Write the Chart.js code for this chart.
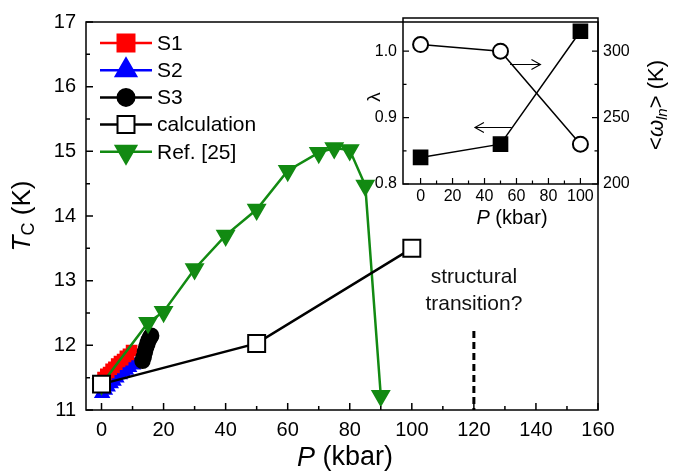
<!DOCTYPE html>
<html>
<head>
<meta charset="utf-8">
<script src="https://cdn.jsdelivr.net/npm/chart.js@4"></script>
<style>
  html, body { margin: 0; padding: 0; background: #fff; }
  #wrap { position: relative; width: 696px; height: 474px; }
  #main { position: absolute; left: 0; top: 0; }
  #inset { position: absolute; left: 340px; top: 0; }
</style>
</head>
<body>
<div id="wrap">
  <canvas id="main" width="696" height="474"></canvas>
  <canvas id="inset" width="356" height="240"></canvas>
</div>
<script>
// main panel: Tc vs pressure
const S1_P = [0.5, 1.4, 2.3, 3.1, 4.0, 4.9, 5.8, 6.8, 7.7, 8.7, 9.7];
const S1_TC = [11.50, 11.55, 11.58, 11.63, 11.66, 11.71, 11.75, 11.78, 11.83, 11.86, 11.92];
const S2_P = [0.2, 1.1, 2.0, 3.0, 3.9, 4.8, 5.9, 6.9, 7.9, 8.9, 10.2];
const S2_TC = [11.26, 11.31, 11.36, 11.41, 11.45, 11.50, 11.55, 11.59, 11.62, 11.66, 11.70];
const S3_P = [13.2, 13.6, 14.0, 14.4, 14.8, 15.2, 15.6, 16.0];
const S3_TC = [11.76, 11.82, 11.90, 11.97, 12.03, 12.08, 12.12, 12.15];
const CALC_P = [0, 50, 100];
const CALC_TC = [11.4, 12.03, 13.5];
const REF_P = [0, 15, 20, 30, 40, 50, 60, 70, 75, 80, 85, 90];
const REF_TC = [11.4, 12.35, 12.52, 13.18, 13.7, 14.1, 14.7, 14.98, 15.05, 15.02, 14.47, 11.22];
const TRANSITION_P = 120;
const TRANSITION_TC = [12.22, 11.0];

const X_TICKS = [0, 20, 40, 60, 80, 100, 120, 140, 160];
const X_MINOR = [10, 30, 50, 70, 90, 110, 130, 150];
const Y_TICKS = [11, 12, 13, 14, 15, 16, 17];
const Y_MINOR = [11.5, 12.5, 13.5, 14.5, 15.5, 16.5];

// inset: lambda and <omega_ln> vs pressure
const INSET_P = [0, 50, 100];
const LAMBDA = [0.84, 0.86, 1.03];
const OMEGA_LN = [305, 300, 230];
const INSET_X_TICKS = [0, 20, 40, 60, 80, 100];
const INSET_X_MINOR = [10, 30, 50, 70, 90];
const LAMBDA_TICKS = [0.8, 0.9, 1.0];
const LAMBDA_MINOR = [0.85, 0.95];
const OMEGA_TICKS = [200, 250, 300];
const OMEGA_MINOR = [225, 275];

const FONT = "'Liberation Sans', Arial, sans-serif";
const GREEN = '#128a12';

const pts = (xs, ys) => xs.map((x, i) => ({ x, y: ys[i] }));

function marker(ctx, style, x, y, r, fill, stroke, lw) {
  ctx.save();
  ctx.beginPath();
  if (style === 'rect') {
    const s = r * Math.SQRT1_2;
    ctx.rect(x - s, y - s, 2 * s, 2 * s);
  } else if (style === 'circle') {
    ctx.arc(x, y, r, 0, Math.PI * 2);
  } else {
    const d = style === 'triangle' ? 1 : -1;
    ctx.moveTo(x, y - d * r);
    ctx.lineTo(x + r * 0.866, y + d * r * 0.5);
    ctx.lineTo(x - r * 0.866, y + d * r * 0.5);
    ctx.closePath();
  }
  ctx.fillStyle = fill;
  ctx.fill();
  ctx.lineWidth = lw;
  ctx.strokeStyle = stroke;
  ctx.stroke();
  ctx.restore();
}

function tickMarks(ctx, scale, values, len, side, area) {
  ctx.beginPath();
  values.forEach(v => {
    const p = scale.getPixelForValue(v);
    if (side === 'bottom') { ctx.moveTo(p, area.bottom); ctx.lineTo(p, area.bottom - len); }
    if (side === 'left') { ctx.moveTo(area.left, p); ctx.lineTo(area.left + len, p); }
    if (side === 'right') { ctx.moveTo(area.right, p); ctx.lineTo(area.right - len, p); }
  });
  ctx.stroke();
}

const LEGEND = [
  { label: 'S1', style: 'rect', r: 12, fill: '#ff0000', stroke: '#ff0000', line: '#ff0000' },
  { label: 'S2', style: 'triangle', r: 12, fill: '#0000ff', stroke: '#0000ff', line: '#0000ff' },
  { label: 'S3', style: 'circle', r: 8.5, fill: '#000', stroke: '#000', line: '#000' },
  { label: 'calculation', style: 'rect', r: 12, fill: '#fff', stroke: '#000', line: '#000' },
  { label: 'Ref. [25]', style: 'triangleDown', r: 12, fill: GREEN, stroke: GREEN, line: GREEN },
];

const mainDecor = {
  id: 'mainDecor',
  afterDraw(chart) {
    const { ctx, chartArea: a, scales: { x, y } } = chart;
    ctx.save();
    ctx.strokeStyle = '#000';
    ctx.lineWidth = 1.5;
    ctx.strokeRect(a.left, a.top, a.right - a.left, a.bottom - a.top);
    tickMarks(ctx, x, X_TICKS, 7, 'bottom', a);
    tickMarks(ctx, x, X_MINOR, 4, 'bottom', a);
    tickMarks(ctx, y, Y_TICKS, 7, 'left', a);
    tickMarks(ctx, y, Y_MINOR, 4, 'left', a);

    // legend
    ctx.font = '21px ' + FONT;
    ctx.textBaseline = 'middle';
    LEGEND.forEach((it, i) => {
      const ly = 43 + i * 27.2;
      ctx.beginPath();
      ctx.strokeStyle = it.line;
      ctx.lineWidth = 2.5;
      ctx.moveTo(100, ly);
      ctx.lineTo(152, ly);
      ctx.stroke();
      marker(ctx, it.style, 126, ly, it.r, it.fill, it.stroke, 2);
      ctx.fillStyle = '#000';
      ctx.fillText(it.label, 157, ly + 1);
    });

    // annotation
    ctx.textAlign = 'center';
    ctx.fillStyle = '#111';
    const tx = x.getPixelForValue(TRANSITION_P);
    ctx.fillText('structural', tx, y.getPixelForValue(13.05));
    ctx.fillText('transition?', tx, y.getPixelForValue(12.64));

    // x title
    ctx.fillStyle = '#000';
    ctx.textAlign = 'left';
    ctx.font = 'italic 27px ' + FONT;
    const wP = ctx.measureText('P').width;
    ctx.font = '27px ' + FONT;
    const wRest = ctx.measureText(' (kbar)').width;
    let sx = 345 - (wP + wRest) / 2;
    ctx.font = 'italic 27px ' + FONT;
    ctx.fillText('P', sx, 458);
    ctx.font = '27px ' + FONT;
    ctx.fillText(' (kbar)', sx + wP, 458);

    // y title
    ctx.translate(23, 216);
    ctx.rotate(-Math.PI / 2);
    ctx.font = 'italic 26px ' + FONT;
    const wT = ctx.measureText('T').width;
    ctx.font = '18px ' + FONT;
    const wC = ctx.measureText('C').width;
    ctx.font = '26px ' + FONT;
    const wK = ctx.measureText(' (K)').width;
    sx = -(wT + wC + wK) / 2;
    ctx.font = 'italic 26px ' + FONT;
    ctx.fillText('T', sx, 0);
    ctx.font = '18px ' + FONT;
    ctx.fillText('C', sx + wT, 6);
    ctx.font = '26px ' + FONT;
    ctx.fillText(' (K)', sx + wT + wC, 0);
    ctx.restore();
  }
};

new Chart(document.getElementById('main'), {
  type: 'scatter',
  data: {
    datasets: [
      { data: pts(CALC_P, CALC_TC), showLine: true, borderColor: '#000', borderWidth: 2.5,
        pointStyle: 'rect', pointRadius: 12, pointBackgroundColor: '#fff', pointBorderColor: '#000', pointBorderWidth: 2, order: 0 },
      { data: pts(REF_P, REF_TC), showLine: true, borderColor: GREEN, borderWidth: 2.5,
        pointStyle: 'triangle', rotation: 180, pointRadius: 9, pointBackgroundColor: GREEN, pointBorderColor: GREEN, order: 1 },
      { data: pts(S3_P, S3_TC), showLine: true, borderColor: '#000', borderWidth: 2.5,
        pointStyle: 'circle', pointRadius: 7, pointBackgroundColor: '#000', pointBorderColor: '#000', order: 2 },
      { data: pts(S1_P, S1_TC), showLine: true, borderColor: '#ff0000', borderWidth: 2.5,
        pointStyle: 'rect', pointRadius: 6.5, pointBackgroundColor: '#ff0000', pointBorderColor: '#ff0000', order: 3 },
      { data: pts(S2_P, S2_TC), showLine: true, borderColor: '#0000ff', borderWidth: 2.5,
        pointStyle: 'triangle', pointRadius: 7, pointBackgroundColor: '#0000ff', pointBorderColor: '#0000ff', order: 4 },
      { data: TRANSITION_TC.map(v => ({ x: TRANSITION_P, y: v })), showLine: true, borderColor: '#000',
        borderWidth: 3, borderDash: [7, 4], pointRadius: 0, order: 5 },
    ],
  },
  options: {
    responsive: false,
    animation: false,
    layout: { padding: { top: 18, right: 98, left: 0, bottom: 0 } },
    plugins: { legend: { display: false }, tooltip: { enabled: false } },
    scales: {
      x: {
        type: 'linear', min: -5, max: 160,
        grid: { display: false, drawTicks: false }, border: { display: false },
        ticks: { color: '#000', padding: 8, font: { family: FONT, size: 20 } },
        afterBuildTicks: (s) => { s.ticks = X_TICKS.map(v => ({ value: v })); },
        afterFit: (s) => { s.height = 64; },
      },
      y: {
        min: 11, max: 17,
        grid: { display: false, drawTicks: false }, border: { display: false },
        ticks: { color: '#000', padding: 10, font: { family: FONT, size: 20 } },
        afterBuildTicks: (s) => { s.ticks = Y_TICKS.map(v => ({ value: v })); },
        afterFit: (s) => { s.width = 86; },
      },
    },
  },
  plugins: [mainDecor],
});

const insetDecor = {
  id: 'insetDecor',
  afterDraw(chart) {
    const { ctx, chartArea: a, scales: { x, y, y1 } } = chart;
    ctx.save();
    ctx.strokeStyle = '#000';
    ctx.lineWidth = 1.5;
    ctx.strokeRect(a.left, a.top, a.right - a.left, a.bottom - a.top);
    ctx.lineWidth = 1.2;
    tickMarks(ctx, x, INSET_X_TICKS, 6, 'bottom', a);
    tickMarks(ctx, x, INSET_X_MINOR, 3.5, 'bottom', a);
    tickMarks(ctx, y, LAMBDA_TICKS, 6, 'left', a);
    tickMarks(ctx, y, LAMBDA_MINOR, 3.5, 'left', a);
    tickMarks(ctx, y1, OMEGA_TICKS, 6, 'right', a);
    tickMarks(ctx, y1, OMEGA_MINOR, 3.5, 'right', a);

    // arrows pointing to the axes
    const arrow = (x0, x1, py) => {
      ctx.beginPath();
      ctx.moveTo(x0, py); ctx.lineTo(x1, py);
      const d = x1 > x0 ? -1 : 1;
      ctx.moveTo(x1 + d * 9, py - 5); ctx.lineTo(x1, py); ctx.lineTo(x1 + d * 9, py + 5);
      ctx.stroke();
    };
    ctx.lineWidth = 1.1;
    arrow(x.getPixelForValue(56), x.getPixelForValue(75), y1.getPixelForValue(290));
    arrow(x.getPixelForValue(57), x.getPixelForValue(34), y.getPixelForValue(0.885));

    ctx.fillStyle = '#000';
    ctx.textBaseline = 'middle';
    // x title
    ctx.font = 'italic 20px ' + FONT;
    const wP = ctx.measureText('P').width;
    ctx.font = '20px ' + FONT;
    const wR = ctx.measureText(' (kbar)').width;
    const sx = 172 - (wP + wR) / 2;
    ctx.font = 'italic 20px ' + FONT;
    ctx.fillText('P', sx, 218);
    ctx.font = '20px ' + FONT;
    ctx.fillText(' (kbar)', sx + wP, 218);

    // lambda title
    ctx.save();
    ctx.translate(35, 97);
    ctx.rotate(-Math.PI / 2);
    ctx.textAlign = 'center';
    ctx.font = '19px ' + FONT;
    ctx.fillText('\u03bb', 0, 0);
    ctx.restore();

    // omega title
    ctx.save();
    ctx.translate(317, 105);
    ctx.rotate(-Math.PI / 2);
    const parts = [
      ['<', '22px ' + FONT, 0], ['\u03c9', 'italic 22px ' + FONT, 0],
      ['ln', 'italic 15px ' + FONT, 6], ['>', '22px ' + FONT, 0], [' (K)', '22px ' + FONT, 0],
    ];
    let total = 0;
    parts.forEach(p => { ctx.font = p[1]; total += ctx.measureText(p[0]).width; });
    let cx = -total / 2;
    parts.forEach(p => { ctx.font = p[1]; ctx.fillText(p[0], cx, p[2]); cx += ctx.measureText(p[0]).width; });
    ctx.restore();
    ctx.restore();
  }
};

new Chart(document.getElementById('inset'), {
  type: 'scatter',
  data: {
    datasets: [
      { data: pts(INSET_P, LAMBDA), yAxisID: 'y', showLine: true, borderColor: '#000', borderWidth: 1.5,
        pointStyle: 'rect', pointRadius: 10, pointBackgroundColor: '#000', pointBorderColor: '#000' },
      { data: pts(INSET_P, OMEGA_LN), yAxisID: 'y1', showLine: true, borderColor: '#000', borderWidth: 1.5,
        pointStyle: 'circle', pointRadius: 7.5, pointBackgroundColor: '#fff', pointBorderColor: '#000', pointBorderWidth: 2 },
    ],
  },
  options: {
    responsive: false,
    animation: false,
    layout: { padding: { top: 18, right: 0, left: 0, bottom: 0 } },
    plugins: { legend: { display: false }, tooltip: { enabled: false } },
    scales: {
      x: {
        type: 'linear', min: -11, max: 111,
        grid: { display: false, drawTicks: false }, border: { display: false },
        ticks: { color: '#000', padding: 3, font: { family: FONT, size: 16 } },
        afterBuildTicks: (s) => { s.ticks = INSET_X_TICKS.map(v => ({ value: v })); },
        afterFit: (s) => { s.height = 56; },
      },
      y: {
        position: 'left', min: 0.8, max: 1.05,
        grid: { display: false, drawTicks: false }, border: { display: false },
        ticks: { color: '#000', padding: 6, font: { family: FONT, size: 16 }, callback: (v) => v.toFixed(1) },
        afterBuildTicks: (s) => { s.ticks = LAMBDA_TICKS.map(v => ({ value: v })); },
        afterFit: (s) => { s.width = 63; },
      },
      y1: {
        position: 'right', min: 200, max: 325,
        grid: { display: false, drawTicks: false }, border: { display: false },
        ticks: { color: '#000', padding: 5, font: { family: FONT, size: 16 } },
        afterBuildTicks: (s) => { s.ticks = OMEGA_TICKS.map(v => ({ value: v })); },
        afterFit: (s) => { s.width = 98; },
      },
    },
  },
  plugins: [insetDecor],
});
</script>
</body>
</html>
